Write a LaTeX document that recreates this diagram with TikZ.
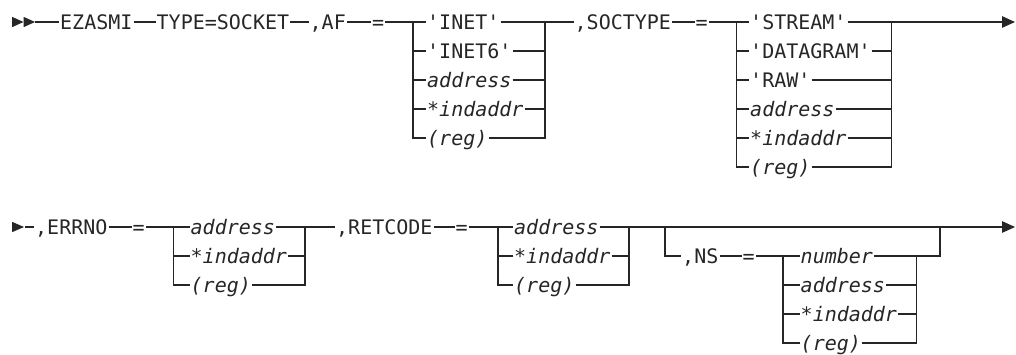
\documentclass[tikz,border=0pt]{standalone}
\usepackage{fontspec}
\newfontfamily\railfont{DejaVu Sans Mono}[Ligatures=TeXOff]
\usetikzlibrary{arrows.meta}

\begin{document}
\begin{tikzpicture}[
  x=1pt, y=-1pt,
  tok/.style={anchor=west, inner xsep=1pt, inner ysep=0pt,
    text height=14.6pt, text depth=0pt, text=black!85,
    font=\railfont\fontsize{20}{24}\selectfont},
  var/.style={tok, font=\railfont\itshape\fontsize{20}{24}\selectfont},
  rail/.style={draw=black!85, line width=1.1pt},
  endarr/.style={rail, -{Triangle[length=13pt, width=11.5pt]}},
  headfill/.style={fill=black!85},
]
\useasboundingbox (0,0) rectangle (1016,354);

% Vertical positions of the two main lines
\def\rowa{22}
\def\rowb{227}
\def\dy{29}

% ============================================================
% LINE 1: EZASMI TYPE=SOCKET ,AF ,SOCTYPE
% ============================================================
\coordinate (s1) at (12,\rowa);
\coordinate (s1e) at (35,\rowa);
\fill[headfill] (s1) ++(0,-5.2) -- ++(11.5,5.2) -- ++(-11.5,5.2) -- cycle;
\fill[headfill] (s1) ++(11.5,-5.2) -- ++(11.5,5.2) -- ++(-11.5,5.2) -- cycle;

\node[tok] (ezasmi) at (59,\rowa) {EZASMI};
\node[tok] (type) at (155.5,\rowa) {TYPE=SOCKET};
\node[tok] (af) at (308.5,\rowa) {,AF};
\node[tok] (afeq) at (371,\rowa) {=};

\draw[rail] (s1e) -- (ezasmi);
\draw[rail] (ezasmi) -- (type);
\draw[rail] (type) -- (af);
\draw[rail] (af) -- (afeq);

% AF choices
\coordinate (afL) at (413,\rowa);
\coordinate (afR) at (545,\rowa);
\node[tok] (afinet)  at (426,\rowa) {'INET'};
\node[tok] (afinet6) at (426,\rowa+\dy) {'INET6'};
\node[var] (afaddr)  at (426,\rowa+2*\dy) {address};
\node[var] (afind)   at (426,\rowa+3*\dy) {*indaddr};
\node[var] (afreg)   at (426,\rowa+4*\dy) {(reg)};

\draw[rail] (afeq) -- (afinet);
\foreach \n in {afinet6,afaddr,afind,afreg} {
  \draw[rail] (afL) |- (\n);
  \draw[rail] (\n) -| (afR);
}

\node[tok] (soctype) at (573.5,\rowa) {,SOCTYPE};
\node[tok] (soceq) at (694.5,\rowa) {=};

\draw[rail] (afinet) -- (soctype);
\draw[rail] (soctype) -- (soceq);

% SOCTYPE choices
\coordinate (socL) at (736.7,\rowa);
\coordinate (socR) at (891.7,\rowa);
\node[tok] (socstream) at (749,\rowa) {'STREAM'};
\node[tok] (socdgram)  at (749,\rowa+\dy) {'DATAGRAM'};
\node[tok] (socraw)    at (749,\rowa+2*\dy) {'RAW'};
\node[var] (socaddr)   at (749,\rowa+3*\dy) {address};
\node[var] (socind)    at (749,\rowa+4*\dy) {*indaddr};
\node[var] (socreg)    at (749,\rowa+5*\dy) {(reg)};

\draw[rail] (soceq) -- (socstream);
\foreach \n in {socdgram,socraw,socaddr,socind,socreg} {
  \draw[rail] (socL) |- (\n);
  \draw[rail] (\n) -| (socR);
}

\coordinate (end1) at (1015,\rowa);
\draw[endarr] (socstream) -- (end1);

% ============================================================
% LINE 2: ,ERRNO ,RETCODE [,NS]
% ============================================================
\coordinate (s2) at (12,\rowb);
\coordinate (s2e) at (25,\rowb);
\fill[headfill] (s2) ++(0,-5.2) -- ++(12,5.2) -- ++(-12,5.2) -- cycle;

\node[tok] (errno) at (34,\rowb) {,ERRNO};
\node[tok] (erreq) at (131.5,\rowb) {=};

\draw[rail] (s2e) -- (errno);
\draw[rail] (errno) -- (erreq);

% ERRNO choices
\coordinate (errL) at (173.3,\rowb);
\coordinate (errR) at (305,\rowb);
\node[var] (erraddr) at (189.5,\rowb) {address};
\node[var] (errind)  at (189.5,\rowb+\dy) {*indaddr};
\node[var] (errreg)  at (189.5,\rowb+2*\dy) {(reg)};

\draw[rail] (erreq) -- (erraddr);
\foreach \n in {errind,errreg} {
  \draw[rail] (errL) |- (\n);
  \draw[rail] (\n) -| (errR);
}

\node[tok] (retcode) at (335,\rowb) {,RETCODE};
\node[tok] (reteq) at (454.5,\rowb) {=};

\draw[rail] (erraddr) -- (retcode);
\draw[rail] (retcode) -- (reteq);

% RETCODE choices
\coordinate (retL) at (498,\rowb);
\coordinate (retR) at (629,\rowb);
\node[var] (retaddr) at (513,\rowb) {address};
\node[var] (retind)  at (513,\rowb+\dy) {*indaddr};
\node[var] (retreg)  at (513,\rowb+2*\dy) {(reg)};

\draw[rail] (reteq) -- (retaddr);
\foreach \n in {retind,retreg} {
  \draw[rail] (retL) |- (\n);
  \draw[rail] (\n) -| (retR);
}

\coordinate (end2) at (1015,\rowb);
\draw[endarr] (retaddr) -- (end2);

% Optional NS branch below the main line
\coordinate (nsL) at (665,\rowb);
\coordinate (nsR) at (940,\rowb);
\node[tok] (ns) at (681,\rowb+\dy) {,NS};
\node[tok] (nseq) at (741.5,\rowb+\dy) {=};

\draw[rail] (nsL) |- (ns);
\draw[rail] (ns) -- (nseq);

\coordinate (numL) at (783,\rowb+\dy);
\coordinate (numR) at (916.7,\rowb+\dy);
\node[var] (nsnum)  at (799.5,\rowb+\dy) {number};
\node[var] (nsaddr) at (799.5,\rowb+2*\dy) {address};
\node[var] (nsind)  at (799.5,\rowb+3*\dy) {*indaddr};
\node[var] (nsreg)  at (799.5,\rowb+4*\dy) {(reg)};

\draw[rail] (nseq) -- (nsnum);
\draw[rail] (nsnum) -| (nsR);
\foreach \n in {nsaddr,nsind,nsreg} {
  \draw[rail] (numL) |- (\n);
  \draw[rail] (\n) -| (numR);
}

\end{tikzpicture}
\end{document}
